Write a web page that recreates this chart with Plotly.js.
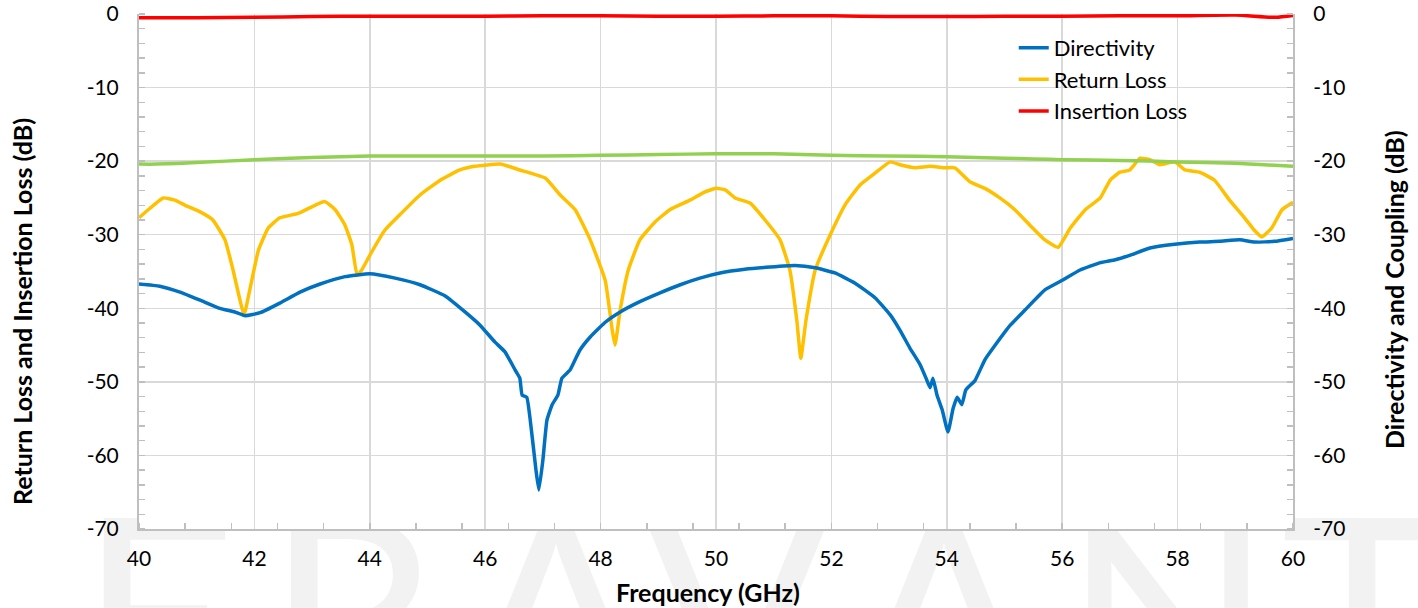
<!DOCTYPE html>
<html>
<head>
<meta charset="utf-8">
<script src="https://cdn.plot.ly/plotly-3.0.1.min.js"></script>
<style>
  html, body { margin: 0; padding: 0; background: #ffffff; }
  #wrap { position: relative; width: 1418px; height: 608px; overflow: hidden; }
  #wm { position: absolute; left: 0; top: 0; width: 1418px; height: 608px; z-index: 0; }
  #wm span { position: absolute; font-family: Lato, sans-serif; font-size: 275px; line-height: 275px; color: #f2f2f2; transform: translateX(-50%); }
  #chart { position: absolute; left: 0; top: 0; width: 1418px; height: 608px; z-index: 1; }
</style>
</head>
<body>
<div id="wrap">
  <div id="wm"></div>
  <div id="chart"></div>
</div>
<script>
// ---------- data ----------
const dirFreq = [40,40.36,40.71,41.06,41.4,41.66,41.84,42.1,42.44,42.79,43.14,43.57,44.0,44.44,44.87,45.3,45.65,45.91,46.17,46.34,46.52,46.6,46.64,46.72,46.8,46.88,46.93,47.0,47.07,47.16,47.26,47.33,47.47,47.64,47.82,48.08,48.34,48.68,49.03,49.38,49.72,50.07,50.5,50.94,51.37,51.72,52.06,52.41,52.76,53.02,53.19,53.36,53.54,53.64,53.71,53.76,53.83,53.92,54.02,54.11,54.18,54.26,54.33,54.49,54.66,54.84,55.1,55.36,55.7,56.0,56.31,56.66,56.92,57.17,57.52,57.95,58.38,58.73,59.08,59.33,59.68,60];
const directivity = [-36.7,-37.0,-37.8,-38.9,-40.0,-40.5,-41.0,-40.6,-39.3,-37.8,-36.7,-35.7,-35.3,-35.9,-36.8,-38.3,-40.5,-42.3,-44.6,-45.9,-48.4,-49.5,-51.8,-52.1,-56.5,-62.0,-64.7,-60.6,-55.2,-53.1,-51.8,-49.5,-48.4,-45.7,-43.9,-41.9,-40.5,-39.1,-37.9,-36.8,-35.9,-35.2,-34.7,-34.4,-34.2,-34.5,-35.2,-36.6,-38.6,-40.9,-43.0,-45.4,-47.7,-49.5,-50.8,-49.5,-51.8,-53.8,-56.8,-53.6,-52.1,-53.1,-51.1,-49.8,-47.0,-45.0,-42.3,-40.2,-37.5,-36.2,-34.8,-33.8,-33.4,-32.8,-31.8,-31.3,-31.0,-30.9,-30.7,-31.0,-30.9,-30.5];

const rlFreq = [40,40.19,40.42,40.62,40.8,41.06,41.28,41.49,41.63,41.75,41.82,41.92,42.07,42.24,42.44,42.76,43.05,43.22,43.4,43.57,43.69,43.78,43.86,44.0,44.26,44.52,44.87,45.22,45.56,45.82,46.26,46.6,47.04,47.3,47.56,47.82,48.08,48.2,48.25,48.34,48.48,48.68,48.94,49.2,49.55,49.8,50.0,50.16,50.33,50.59,50.85,51.11,51.28,51.4,51.47,51.56,51.72,51.98,52.24,52.5,52.76,53.02,53.19,53.45,53.71,53.97,54.14,54.4,54.66,54.92,55.18,55.44,55.7,55.93,56.14,56.4,56.66,56.83,57.0,57.17,57.35,57.52,57.69,57.95,58.13,58.38,58.64,58.9,59.16,59.33,59.46,59.63,59.81,60];
const returnLoss = [-27.7,-26.4,-25.0,-25.3,-26.0,-26.9,-28.0,-30.7,-34.8,-38.9,-40.9,-37.5,-32.1,-29.1,-27.7,-27.1,-26.0,-25.5,-26.6,-28.7,-31.4,-35.5,-34.8,-32.8,-29.4,-27.3,-24.6,-22.6,-21.2,-20.7,-20.4,-21.2,-22.3,-24.6,-26.6,-30.7,-36.2,-42.9,-45.0,-40.2,-34.8,-30.7,-28.3,-26.6,-25.3,-24.2,-23.7,-23.9,-25.0,-25.7,-28.0,-30.7,-34.8,-41.6,-46.8,-41.6,-34.8,-30.0,-25.9,-23.2,-21.6,-20.1,-20.5,-20.9,-20.7,-20.9,-20.9,-22.8,-23.7,-25.0,-26.6,-28.7,-30.7,-31.7,-29.1,-26.6,-25.0,-22.6,-21.5,-21.2,-19.6,-19.8,-20.5,-20.1,-21.2,-21.5,-22.6,-25.3,-27.7,-29.4,-30.3,-29.1,-26.6,-25.6];

const ilFreq = [40,41,42,43,44,45,46,47,48,49,50,51,52,53,54,55,56,57,58,59,59.7,60];
const insertionLoss = [-0.5,-0.5,-0.45,-0.35,-0.3,-0.3,-0.3,-0.25,-0.25,-0.3,-0.3,-0.25,-0.25,-0.35,-0.35,-0.3,-0.3,-0.25,-0.25,-0.15,-0.45,-0.2];

const cpFreq = [40,40.3,41,42,43,44,45,46,47,48,49,50,51,52,53,54,55,55.5,56,57,58,59,59.5,60];
const coupling = [-20.4,-20.4,-20.2,-19.8,-19.5,-19.3,-19.3,-19.3,-19.3,-19.2,-19.1,-19.0,-19.0,-19.2,-19.3,-19.4,-19.6,-19.7,-19.8,-19.9,-20.1,-20.3,-20.5,-20.7];

const yTickVals = [0,-10,-20,-30,-40,-50,-60,-70];
const yTickText = ['0','-10','-20','-30','-40','-50','-60','-70'];
const xTickVals = [40,42,44,46,48,50,52,54,56,58,60];
const xTickText = ['40','42','44','46','48','50','52','54','56','58','60'];
const xTitle = 'Frequency (GHz)';
const yTitleLeft = 'Return Loss and Insertion Loss (dB)';
const yTitleRight = 'Directivity and Coupling (dB)';
const watermarkLetters = ['E','R','A','V','A','N','T'];
const watermarkCenters = [158,352,556,737,944,1168,1362];

// ---------- watermark (background decoration) ----------
const wm = document.getElementById('wm');
watermarkLetters.forEach((ch, i) => {
  const s = document.createElement('span');
  s.textContent = ch;
  s.style.left = watermarkCenters[i] + 'px';
  s.style.top = '472px';
  wm.appendChild(s);
});

// ---------- chart ----------
const FONT = 'Lato, "Open Sans", sans-serif';
const lineW = 3.5;
const traces = [
  {x: dirFreq, y: directivity, name: 'Directivity', yaxis: 'y2', mode: 'lines',
   line: {color: '#0070C0', width: lineW, shape: 'spline', smoothing: 0.4}},
  {x: rlFreq, y: returnLoss, name: 'Return Loss', mode: 'lines',
   line: {color: '#FFC000', width: lineW, shape: 'spline', smoothing: 0.4}},
  {x: ilFreq, y: insertionLoss, name: 'Insertion Loss', mode: 'lines',
   line: {color: '#FF0000', width: lineW, shape: 'spline', smoothing: 0.6}},
  {x: cpFreq, y: coupling, name: 'Coupling', yaxis: 'y2', mode: 'lines', showlegend: false,
   line: {color: '#92D050', width: lineW, shape: 'spline', smoothing: 0.6}}
];

const yCommon = {
  range: [-70, 0], tickmode: 'array', tickvals: yTickVals, ticktext: yTickText,
  showgrid: true, gridcolor: '#d9d9d9', gridwidth: 1.5, zeroline: false,
  showline: true, linecolor: '#bfbfbf', linewidth: 2,
  ticks: '', tickfont: {family: FONT, size: 21, color: '#000'},
  minor: {ticks: 'inside', ticklen: 6, tickcolor: '#bfbfbf', tickwidth: 1.5, dtick: 2, tick0: 0, showgrid: false},
  fixedrange: true
};

const W = 1418, H = 608, ML = 139, MR = 125, MT = 14, MB = 79;
const pw = W - ML - MR, ph = H - MT - MB;
const px = v => (v - ML) / pw;          // pixel -> paper x
const py = v => (H - MB - v) / ph;      // pixel -> paper y
const titleFont = {family: FONT, size: 25, color: '#000', weight: 'bold'};

const layout = {
  width: W, height: H,
  margin: {l: ML, r: MR, t: MT, b: MB},
  paper_bgcolor: 'rgba(0,0,0,0)', plot_bgcolor: '#ffffff',
  showlegend: true,
  legend: {x: 0.758, y: 0.975, xanchor: 'left', yanchor: 'top', bgcolor: 'rgba(0,0,0,0)',
           font: {family: FONT, size: 22, color: '#000'}, tracegroupgap: 0},
  xaxis: {
    range: [40, 60], tickmode: 'array', tickvals: xTickVals, ticktext: xTickText,
    showgrid: true, gridcolor: '#d9d9d9', gridwidth: 1.5, zeroline: false,
    showline: true, linecolor: '#bfbfbf', linewidth: 2, ticks: '',
    tickfont: {family: FONT, size: 21, color: '#000'}, ticklabelstandoff: 10,
    minor: {ticks: 'inside', ticklen: 6, tickcolor: '#bfbfbf', tickwidth: 1.5, dtick: 0.8, tick0: 40, showgrid: false}
  },
  yaxis: Object.assign({}, yCommon, {side: 'left', ticklabelstandoff: 14}),
  yaxis2: Object.assign({}, yCommon, {side: 'right', overlaying: 'y', showgrid: false, ticklabelstandoff: 14}),
  annotations: [
    {text: xTitle, xref: 'paper', yref: 'paper', x: px(708), y: py(592), xanchor: 'center', yanchor: 'middle',
     showarrow: false, font: titleFont},
    {text: yTitleLeft, xref: 'paper', yref: 'paper', x: px(22), y: py(312), xanchor: 'center', yanchor: 'middle',
     textangle: -90, showarrow: false, font: titleFont},
    {text: yTitleRight, xref: 'paper', yref: 'paper', x: px(1394), y: py(290), xanchor: 'center', yanchor: 'middle',
     textangle: -90, showarrow: false, font: titleFont}
  ]
};

Plotly.newPlot('chart', traces, layout, {displayModeBar: false, staticPlot: true});
</script>
</body>
</html>
